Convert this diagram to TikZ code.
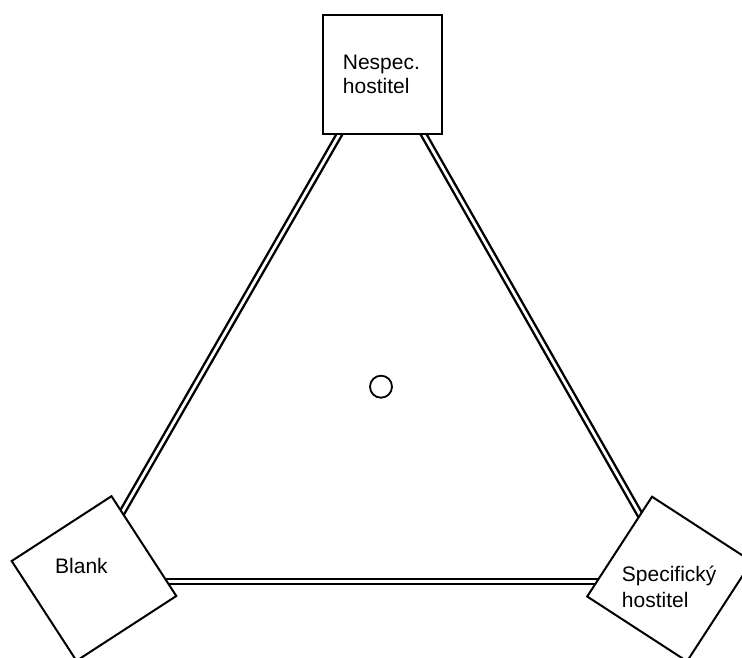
\documentclass[tikz,border=0pt]{standalone}
\usepackage{fontspec}
\setmainfont{Liberation Sans}
\begin{document}
\begin{tikzpicture}[x=1pt,y=-1pt,
  link/.style={draw=black, line width=2.4pt, double=white, double distance=2.8pt},
  hostbox/.style={draw=black, fill=white, line width=2pt, minimum size=119pt, inner sep=0pt, shape=rectangle},
  lbl/.style={font=\fontsize{21}{24}\selectfont, align=left, anchor=base west, inner sep=0pt},
  hub/.style={draw=black, line width=1.8pt, circle, minimum size=22pt, inner sep=0pt}]
\useasboundingbox (0,0) rectangle (742,657);

% corners of the triangle of links
\coordinate (vTop) at (381.7,60.7);
\coordinate (vLeft) at (82.4,581.5);
\coordinate (vRight) at (678,581.5);

\draw[link] (vTop) -- (vLeft);
\draw[link] (vTop) -- (vRight);
\draw[link] (vLeft) -- (vRight);

% the three hosts
\node[hostbox] (nespec) at (382.5,74.5) {};
\node[hostbox, rotate=33] (blank) at (94,578.5) {};
\node[hostbox, rotate=-33] (spec) at (669.5,579) {};

% labels, placed by the baseline of their last line
\node[lbl] (tNespec) at (342.7,93.3) {Nespec.\\hostitel};
\node[lbl] (tBlank) at (55,573.3) {Blank};
\node[lbl, font=\fontsize{21}{26}\selectfont] (tSpec) at (621.7,607.7) {Specifický\\hostitel};

\node[hub] (hub) at (381,386.7) {};
\end{tikzpicture}
\end{document}
